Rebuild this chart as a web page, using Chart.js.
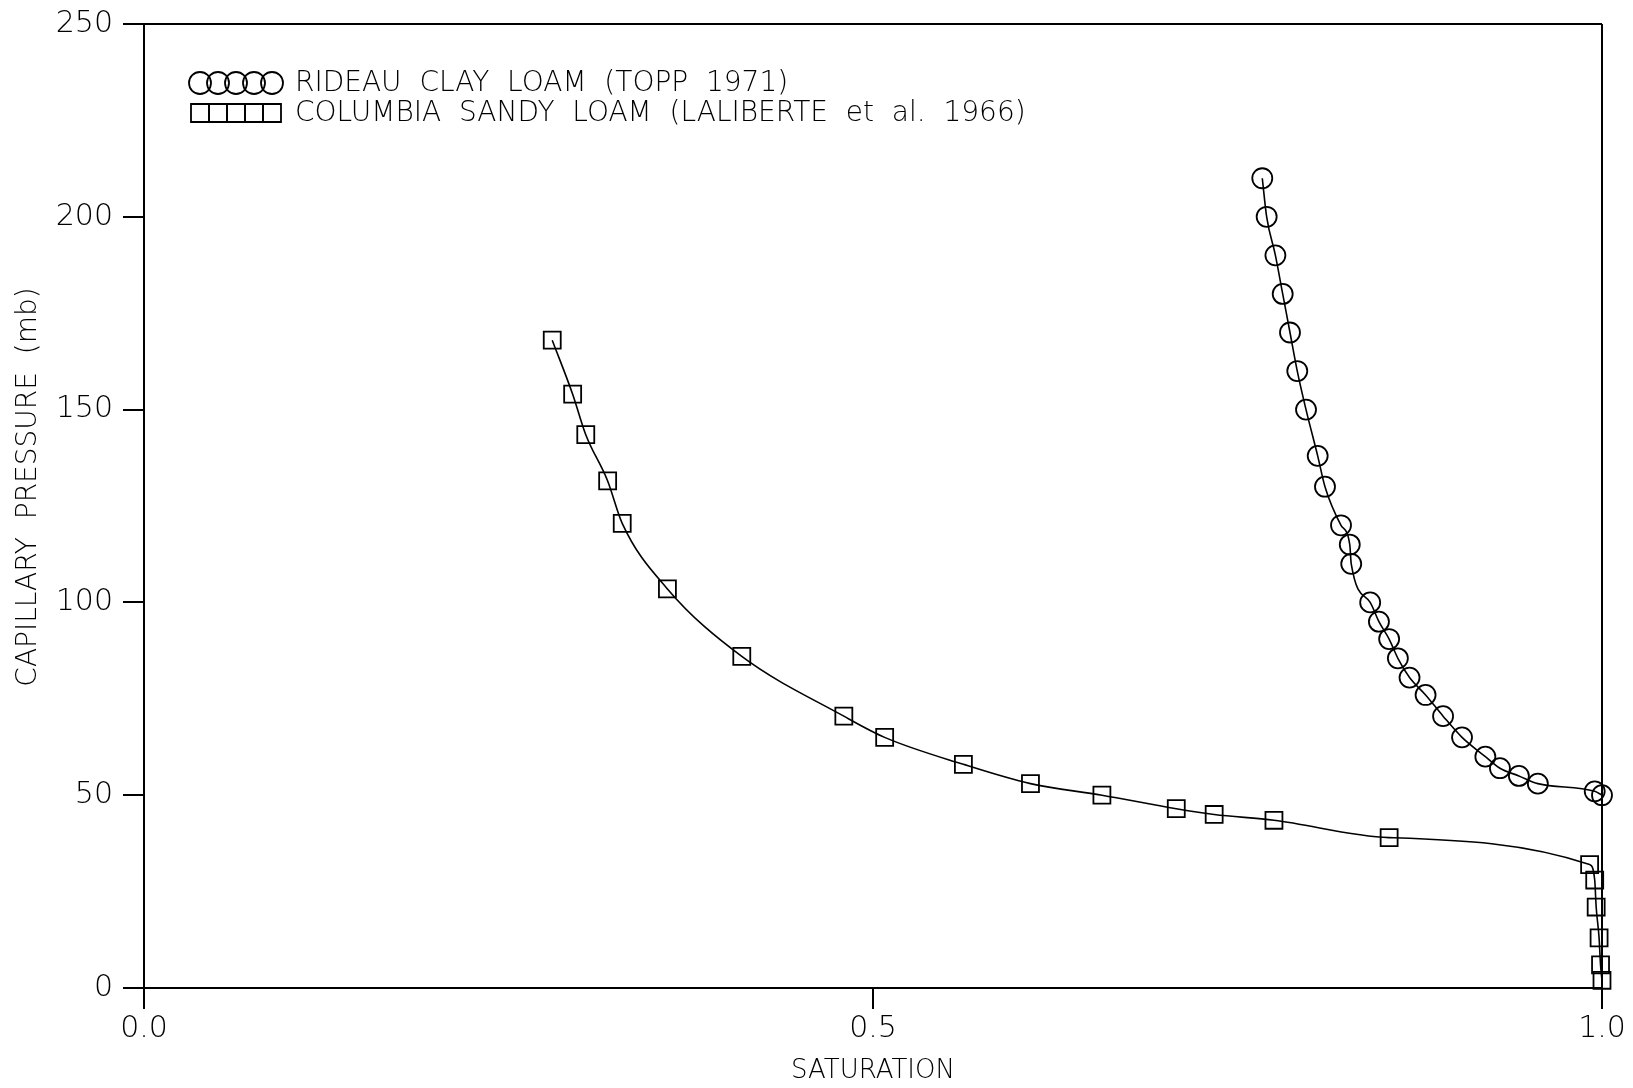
<!DOCTYPE html>
<html>
<head>
<meta charset="utf-8">
<title>Capillary pressure vs saturation</title>
<script src="https://cdn.jsdelivr.net/npm/chart.js@4.4.1/dist/chart.umd.min.js"></script>
<style>
  html, body { margin: 0; padding: 0; background: #fff; }
  canvas { display: block; }
</style>
</head>
<body>
<canvas id="chart" width="1633" height="1088"></canvas>
<script>
// Rideau clay loam (Topp 1971)
const rideauSaturation = [0.767, 0.770, 0.776, 0.781, 0.786, 0.791, 0.797, 0.805, 0.810, 0.821, 0.827, 0.828, 0.841,
    0.847, 0.854, 0.860, 0.868, 0.879, 0.891, 0.904, 0.920, 0.930, 0.943, 0.956, 0.995, 1.000]
const rideauPressure = [210, 200, 190, 180, 170, 160, 150, 138, 130, 120, 115, 110, 100,
    95, 90.5, 85.5, 80.5, 76, 70.5, 65, 60, 57, 55, 53, 51, 50]

// Columbia sandy loam (Laliberte et al. 1966)
const columbiaSaturation = [0.280, 0.294, 0.303, 0.318, 0.328, 0.359, 0.410, 0.480, 0.508, 0.562, 0.608, 0.657,
    0.708, 0.734, 0.775, 0.854, 0.9915, 0.995, 0.996, 0.998, 0.999, 1.000]
const columbiaPressure = [168, 154, 143.5, 131.5, 120.5, 103.5, 86, 70.5, 65, 58, 53, 50,
    46.5, 45, 43.5, 39, 32, 28, 21, 13, 6, 2]

const seriesLabels = ['RIDEAU  CLAY  LOAM  (TOPP  1971)', 'COLUMBIA  SANDY  LOAM  (LALIBERTE  et  al.  1966)']
const xTicks = [0, 0.5, 1.0]
const yTicks = [0, 50, 100, 150, 200, 250]
const yTitle = 'CAPILLARY  PRESSURE  (mb)'
const xTitle = 'SATURATION'

const ink = '#000'
const fontFamily = "'DejaVu Sans', 'Liberation Sans', sans-serif"

function toPoints(xs, ys) {
    return xs.map((x, i) => ({ x: x, y: ys[i] }))
}

// legend inside the plot (five markers in a row, then the label) and the y title,
// which in the original sits a little above the middle of the axis
const plotAnnotations = {
    id: 'plotAnnotations',
    afterDraw(chart) {
        const ctx = chart.ctx
        const area = chart.chartArea
        ctx.save()
        ctx.strokeStyle = ink
        ctx.fillStyle = ink
        ctx.lineWidth = 1.8
        ctx.font = '200 28px ' + fontFamily
        ctx.textBaseline = 'middle'
        chart.data.datasets.forEach((ds, i) => {
            const y = area.top + 59 + i * 30
            for (let k = 0; k < 5; k++) {
                const cx = area.left + 56 + k * 18
                ctx.beginPath()
                if (ds.pointStyle === 'circle') {
                    ctx.arc(cx, y, 11, 0, Math.PI * 2)
                } else {
                    ctx.rect(cx - 9, y - 9, 18, 18)
                }
                ctx.stroke()
            }
            ctx.fillText(ds.label, area.left + 151, y + 1)
        })

        ctx.translate(29, area.top + 463)
        ctx.rotate(-Math.PI / 2)
        ctx.textAlign = 'center'
        ctx.fillText(yTitle, 0, 0)
        ctx.restore()
    }
}

new Chart(document.getElementById('chart'), {
    type: 'scatter',
    data: {
        datasets: [{
            label: seriesLabels[0],
            data: toPoints(rideauSaturation, rideauPressure),
            showLine: true,
            cubicInterpolationMode: 'monotone',
            borderColor: ink,
            borderWidth: 1.6,
            pointStyle: 'circle',
            pointRadius: 10,
            pointBorderWidth: 1.8,
            pointBorderColor: ink,
            pointBackgroundColor: 'rgba(0,0,0,0)',
            clip: false
        }, {
            label: seriesLabels[1],
            data: toPoints(columbiaSaturation, columbiaPressure),
            showLine: true,
            cubicInterpolationMode: 'monotone',
            borderColor: ink,
            borderWidth: 1.6,
            pointStyle: 'rect',
            pointRadius: 12,
            pointBorderWidth: 1.8,
            pointBorderColor: ink,
            pointBackgroundColor: 'rgba(0,0,0,0)',
            clip: false
        }]
    },
    options: {
        responsive: false,
        animation: false,
        layout: {
            padding: { top: 24, right: 31, left: 0, bottom: 0 }
        },
        plugins: {
            legend: { display: false },
            tooltip: { enabled: false }
        },
        scales: {
            x: {
                type: 'linear',
                min: 0,
                max: 1,
                afterBuildTicks: function (scale) {
                    scale.ticks = xTicks.map(v => ({ value: v }))
                },
                afterFit: function (scale) {
                    scale.height = 100
                },
                ticks: {
                    color: ink,
                    padding: 2,
                    maxRotation: 0,
                    font: { family: fontFamily, size: 30, weight: '200' },
                    callback: function (value) {
                        return value.toFixed(1)
                    }
                },
                grid: {
                    drawOnChartArea: true,
                    color: ctx => ctx.tick && ctx.tick.value === 1 ? ink : 'rgba(0,0,0,0)',
                    lineWidth: 2,
                    tickColor: ink,
                    tickWidth: 2,
                    tickLength: 21
                },
                border: { display: true, color: ink, width: 2 },
                title: {
                    display: true,
                    text: xTitle,
                    color: ink,
                    font: { family: fontFamily, size: 26, weight: '200' },
                    padding: { top: 0, bottom: 1 }
                }
            },
            y: {
                type: 'linear',
                min: 0,
                max: 250,
                afterBuildTicks: function (scale) {
                    scale.ticks = yTicks.map(v => ({ value: v }))
                },
                afterFit: function (scale) {
                    scale.width = 144
                    scale.paddingTop = 0
                    scale.paddingBottom = 0
                },
                ticks: {
                    color: ink,
                    padding: 10,
                    font: { family: fontFamily, size: 30, weight: '200' }
                },
                grid: {
                    drawOnChartArea: true,
                    color: ctx => ctx.tick && ctx.tick.value === 250 ? ink : 'rgba(0,0,0,0)',
                    lineWidth: 2,
                    tickColor: ink,
                    tickWidth: 2,
                    tickLength: 21
                },
                border: { display: true, color: ink, width: 2 }
            }
        }
    },
    plugins: [plotAnnotations]
})
</script>
</body>
</html>
